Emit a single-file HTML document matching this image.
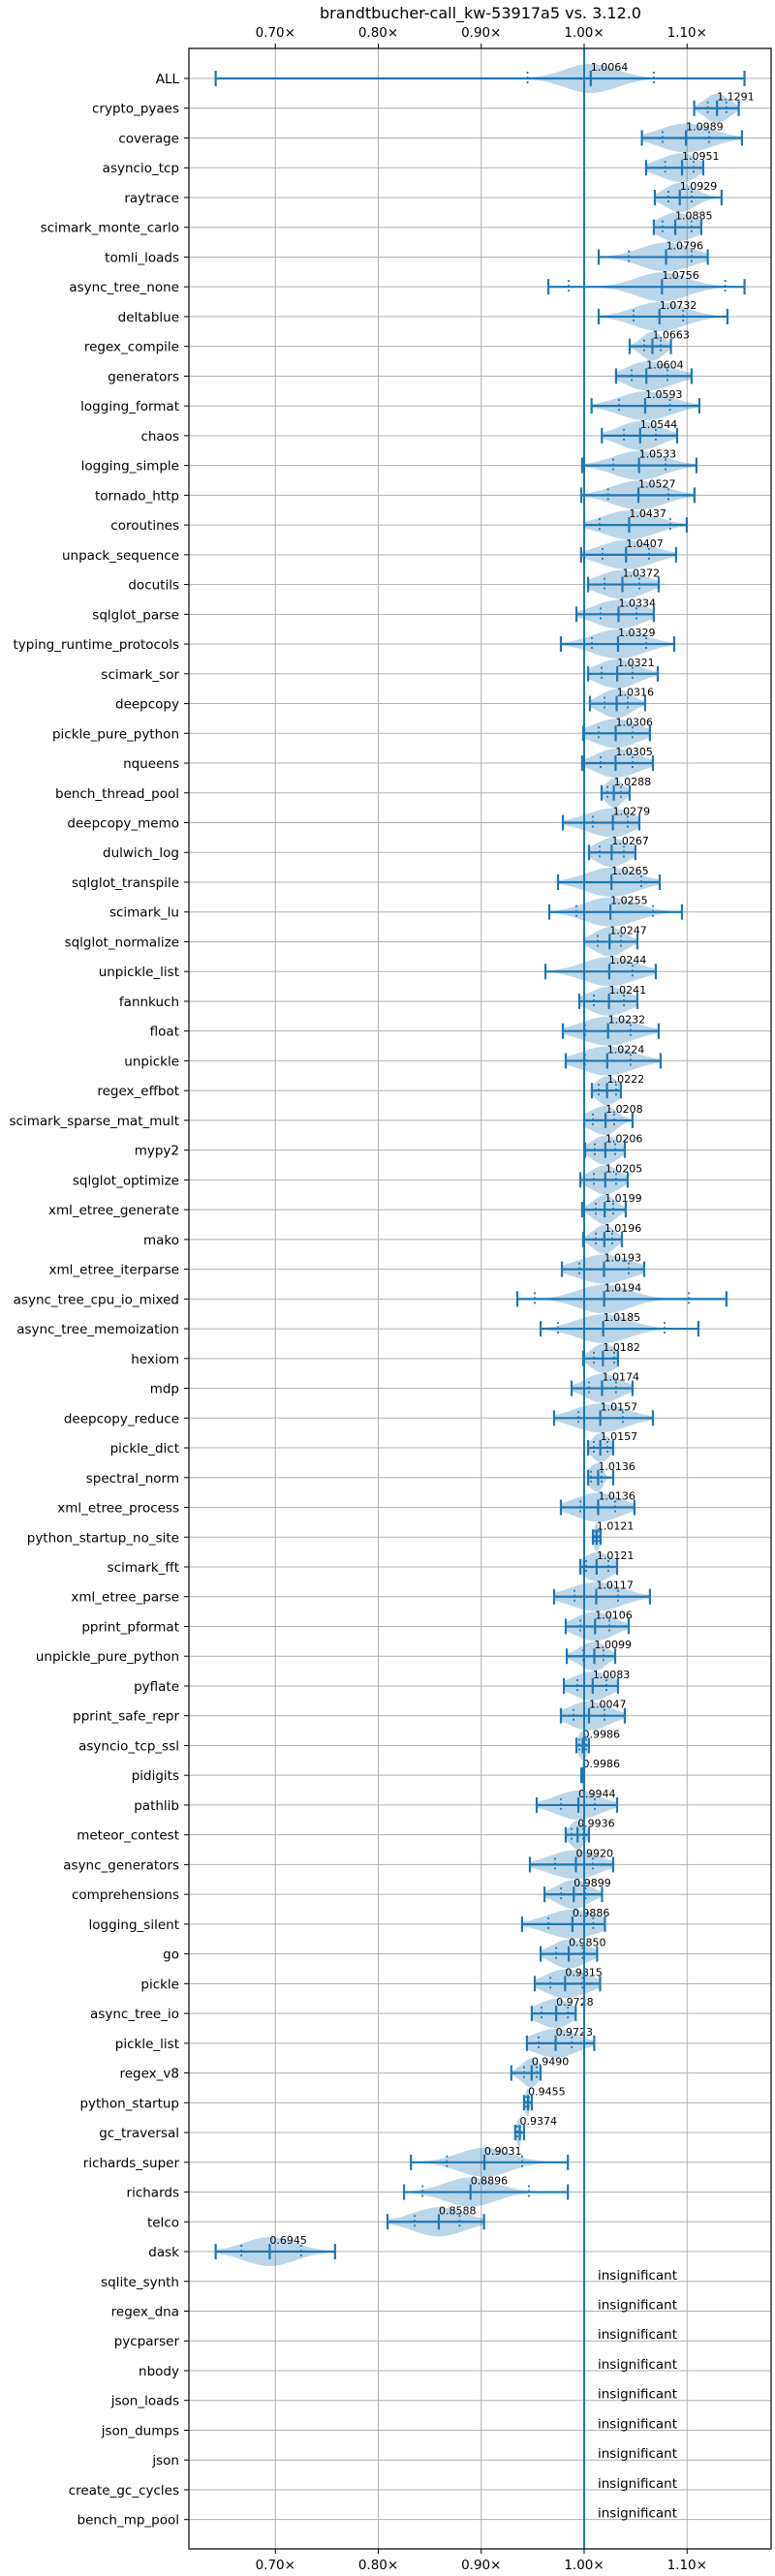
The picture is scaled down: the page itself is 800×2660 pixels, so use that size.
<!DOCTYPE html>
<html><head><meta charset="utf-8">
<style>
html,body{margin:0;padding:0;background:#fff;}
svg{display:block;font-family:"DejaVu Sans","Liberation Sans",sans-serif;}
</style></head>
<body>
<svg id="chart" width="800" height="2660" viewBox="0 0 800 2660" xmlns="http://www.w3.org/2000/svg">
<text x="496" y="19" text-anchor="middle" font-size="16" fill="#000">brandtbucher-call_kw-53917a5 vs. 3.12.0</text>
</svg>
<script>
const benchmarks = ["ALL","crypto_pyaes","coverage","asyncio_tcp","raytrace","scimark_monte_carlo","tomli_loads","async_tree_none","deltablue","regex_compile","generators","logging_format","chaos","logging_simple","tornado_http","coroutines","unpack_sequence","docutils","sqlglot_parse","typing_runtime_protocols","scimark_sor","deepcopy","pickle_pure_python","nqueens","bench_thread_pool","deepcopy_memo","dulwich_log","sqlglot_transpile","scimark_lu","sqlglot_normalize","unpickle_list","fannkuch","float","unpickle","regex_effbot","scimark_sparse_mat_mult","mypy2","sqlglot_optimize","xml_etree_generate","mako","xml_etree_iterparse","async_tree_cpu_io_mixed","async_tree_memoization","hexiom","mdp","deepcopy_reduce","pickle_dict","spectral_norm","xml_etree_process","python_startup_no_site","scimark_fft","xml_etree_parse","pprint_pformat","unpickle_pure_python","pyflate","pprint_safe_repr","asyncio_tcp_ssl","pidigits","pathlib","meteor_contest","async_generators","comprehensions","logging_silent","go","pickle","async_tree_io","pickle_list","regex_v8","python_startup","gc_traversal","richards_super","richards","telco","dask","sqlite_synth","regex_dna","pycparser","nbody","json_loads","json_dumps","json","create_gc_cycles","bench_mp_pool"];
const medians = [1.0064,1.1291,1.0989,1.0951,1.0929,1.0885,1.0796,1.0756,1.0732,1.0663,1.0604,1.0593,1.0544,1.0533,1.0527,1.0437,1.0407,1.0372,1.0334,1.0329,1.0321,1.0316,1.0306,1.0305,1.0288,1.0279,1.0267,1.0265,1.0255,1.0247,1.0244,1.0241,1.0232,1.0224,1.0222,1.0208,1.0206,1.0205,1.0199,1.0196,1.0193,1.0194,1.0185,1.0182,1.0174,1.0157,1.0157,1.0136,1.0136,1.0121,1.0121,1.0117,1.0106,1.0099,1.0083,1.0047,0.9986,0.9986,0.9944,0.9936,0.9920,0.9899,0.9886,0.9850,0.9815,0.9728,0.9723,0.9490,0.9455,0.9374,0.9031,0.8896,0.8588,0.6945];
const mins = [0.642,1.1069,1.0561,1.0602,1.0687,1.0677,1.0141,0.9652,1.0141,1.0442,1.031,1.0072,1.0172,0.998,0.9972,1.0,0.997,1.0038,0.9925,0.9774,1.0038,1.0056,0.999,0.998,1.0169,0.9793,1.0047,0.9746,0.9661,1.0,0.9624,0.9953,0.9793,0.9821,1.0075,1.0,1.0009,0.9962,0.998,0.999,0.9784,0.9351,0.9577,0.999,0.9878,0.9708,1.0038,1.0038,0.9774,1.0085,0.9962,0.9708,0.9821,0.9831,0.9803,0.9774,0.9925,0.9972,0.9539,0.9821,0.9473,0.9615,0.9397,0.9577,0.952,0.9491,0.9444,0.9292,0.9416,0.933,0.8317,0.825,0.809,0.642];
const q1s = [0.945,1.1201,1.0762,1.0787,1.0818,1.0762,1.0433,0.985,1.048,1.0583,1.0461,1.0339,1.0386,1.0282,1.0232,1.015,1.0179,1.0197,1.016,1.0075,1.0169,1.0197,1.0141,1.016,1.0226,1.0085,1.015,1.0,0.9925,1.0132,1.0,1.0094,1.0009,1.0009,1.0141,1.0085,1.0103,1.0094,1.0113,1.0113,0.9953,0.952,0.9746,1.0094,1.0047,0.9944,1.0094,1.0066,0.9962,1.0103,1.0019,0.9906,0.9962,0.999,0.9934,0.9897,0.9953,0.9978,0.9774,0.9878,0.9718,0.9776,0.9653,0.9728,0.9672,0.9586,0.9558,0.9416,0.9435,0.9349,0.8667,0.843,0.8354,0.667];
const q3s = [1.0677,1.1382,1.1213,1.1063,1.1044,1.1044,1.1044,1.137,1.0962,1.0743,1.0809,1.0834,1.0696,1.079,1.0818,1.0837,1.063,1.0536,1.0508,1.0602,1.047,1.0423,1.047,1.047,1.0357,1.0423,1.0386,1.0555,1.0668,1.0357,1.047,1.0386,1.0451,1.0451,1.031,1.0292,1.0301,1.031,1.0282,1.0273,1.0433,1.1016,1.0781,1.0292,1.031,1.0376,1.0226,1.0169,1.0301,1.0141,1.0235,1.0329,1.0245,1.0188,1.0216,1.0197,1.0019,0.999,1.0103,0.999,1.0085,1.0013,1.0088,0.9984,0.9984,0.9842,0.988,0.9539,0.9463,0.9378,0.9397,0.9463,0.879,0.725];
const maxs = [1.1558,1.1502,1.1533,1.1157,1.1335,1.1138,1.1201,1.1558,1.1392,1.0843,1.1044,1.1119,1.0903,1.1091,1.1072,1.0997,1.0893,1.0724,1.0677,1.0875,1.0715,1.0592,1.0639,1.0668,1.0442,1.0536,1.0498,1.0734,1.095,1.0517,1.0696,1.0517,1.0724,1.0743,1.0357,1.047,1.0395,1.0423,1.0404,1.0367,1.0583,1.1382,1.111,1.0329,1.047,1.0668,1.0282,1.0282,1.0489,1.016,1.032,1.0639,1.0433,1.0301,1.0329,1.0395,1.0047,1.0,1.032,1.0047,1.0282,1.0174,1.0202,1.0126,1.0155,0.9918,1.0098,0.9577,0.9491,0.9416,0.9842,0.9842,0.9027,0.758];
const xTicks = [0.7,0.8,0.9,1.0,1.1];
const xTickLabels = ["0.70×","0.80×","0.90×","1.00×","1.10×"];

const NS="http://www.w3.org/2000/svg";
const svg=document.getElementById('chart');
const L=195,R=796,T=50,B=2632;
const X=v=>603+(v-1)*1062.5;
const Y=i=>81+i*30.74;
const BLUE="#1f77b4";
function mk(tag,attrs,parent){const e=document.createElementNS(NS,tag);for(const k in attrs)e.setAttribute(k,attrs[k]);(parent||svg).appendChild(e);return e;}

const grid=mk('g',{});


xTicks.forEach((t,i)=>{
  const x=X(t);
  const gl=mk('line',{x1:x,x2:x,y1:T,y2:B,stroke:"#b0b0b0","stroke-width":1},grid);
  
  
  mk('line',{x1:x,x2:x,y1:T,y2:T-5,stroke:"#000","stroke-width":1},grid);
  mk('line',{x1:x,x2:x,y1:B,y2:B+5,stroke:"#000","stroke-width":1},grid);
  const tt=mk('text',{x:x,y:38,"text-anchor":"middle","font-size":13.5},grid);
  tt.textContent=xTickLabels[i];
  
  
  const tb=mk('text',{x:x,y:2653,"text-anchor":"middle","font-size":13.5},grid);
  tb.textContent=xTickLabels[i];
  
  
});
benchmarks.forEach((b,i)=>{
  const y=Y(i);
  const hl=mk('line',{x1:L,x2:R,y1:y,y2:y,stroke:"#b0b0b0","stroke-width":1},grid);
  
  
  mk('line',{x1:L-5,x2:L,y1:y,y2:y,stroke:"#000","stroke-width":1},grid);
  const lt=mk('text',{x:L-10,y:y+5,"text-anchor":"end","font-size":13.5},grid);
  lt.textContent=b;
  
  
});

const marks=mk('g',{});


medians.forEach((m,i)=>{
  const y=Y(i);
  const lo=mins[i],hi=maxs[i],a=q1s[i],c=q3s[i];
  const sl=Math.min(Math.max((m-a),0.0008)*1.3,0.025), sr=Math.min(Math.max((c-m),0.0008)*1.3,0.025);
  const n=60, top=[], bot=[];
  let vals=[];
  for(let k=0;k<=n;k++){const v=lo+(hi-lo)*k/n;const s=v<m?sl:sr;vals.push([v,Math.exp(-0.5*((v-m)/s)**2)]);}
  const mx=Math.max(...vals.map(p=>p[1]));
  vals.forEach(p=>{const h=15*p[1]/mx;top.push(X(p[0]).toFixed(1)+','+(y-h).toFixed(1));bot.unshift(X(p[0]).toFixed(1)+','+(y+h).toFixed(1));});
  const vp=mk('polygon',{points:top.concat(bot).join(' '),fill:BLUE,"fill-opacity":0.3},marks);
  
  
  const wl=mk('line',{x1:X(lo),x2:X(hi),y1:y,y2:y,stroke:BLUE,"stroke-width":2.2},marks);
  
  
  [lo,hi,m].forEach(v=>{
    const cap=mk('line',{x1:X(v),x2:X(v),y1:y-8,y2:y+8,stroke:BLUE,"stroke-width":2.2},marks);
    
    
  });
  [a,c].forEach(v=>{
    const qd=mk('line',{x1:X(v),x2:X(v),y1:y-7,y2:y+7,stroke:BLUE,"stroke-width":1.8,"stroke-dasharray":"2,3"},marks);
    
    
  });
  const vt=mk('text',{x:X(m),y:y-8,"font-size":11},marks);
  vt.textContent=m.toFixed(4);
  
  
});
for(let i=medians.length;i<benchmarks.length;i++){
  const it=mk('text',{x:617,y:Y(i)-2,"font-size":13.5},marks);
  it.textContent="insignificant";
  
  
}
const base=mk('line',{x1:X(1),x2:X(1),y1:T,y2:B,stroke:BLUE,"stroke-width":2});


const frame=mk('rect',{x:L,y:T,width:R-L,height:B-T,fill:"none",stroke:"#000","stroke-width":1.2});


</script>
</body></html>
